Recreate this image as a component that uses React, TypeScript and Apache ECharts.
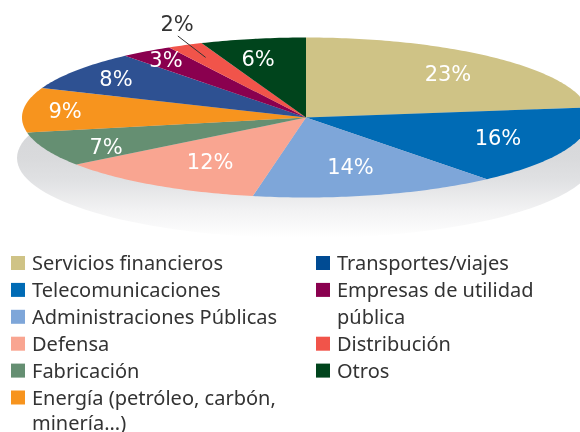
import React, { useEffect, useRef } from "react";
import * as echarts from "echarts";

const categories = ["Servicios financieros", "Telecomunicaciones", "Administraciones Públicas", "Defensa", "Fabricación", "Energía (petróleo, carbón,\nminería...)", "Transportes/viajes", "Empresas de utilidad\npública", "Distribución", "Otros"];
const shares = [23, 16, 14, 12, 7, 9, 8, 3, 2, 6];
const sliceColors = ["#CFC386", "#006BB5", "#7EA6D9", "#F9A591", "#658F72", "#F7941E", "#2E5192", "#8A004F", "#F1544A", "#00441C"];
const legendColors = ["#CFC386", "#006BB5", "#7EA6D9", "#F9A591", "#658F72", "#F7941E", "#004B93", "#8A004F", "#F1544A", "#00441C"];
const total = shares.reduce((a, b) => a + b, 0);

const FONT = '"Noto Sans", sans-serif';
const LABEL_FONT = '"DejaVu Sans", sans-serif';
const CX = 306, CY = 117.5, RX = 284, RY = 80;
// Label placement as a fraction of the radius along each slice's mid-angle
const labelFactors: [number, number][] = [[0.756, 0.75], [0.727, 0.65], [0.63, 0.62], [0.63, 0.637], [0.767, 0.866], [0.852, 1.06], [0.827, 0.851], [0.877, 0.891], [1.066, 1.312], [0.9, 0.763]];

const at = (t: number, kx = 1, ky = kx) => [CX + RX * kx * Math.sin(t), CY - RY * ky * Math.cos(t)];

function renderSlice(params: any, api: any) {
  const i = params.dataIndex;
  const before = shares.slice(0, i).reduce((a, b) => a + b, 0);
  const v = api.value(0);
  const t0 = (before / total) * 2 * Math.PI;
  const t1 = ((before + v) / total) * 2 * Math.PI;
  const pts: number[][] = [[CX, CY]];
  const n = Math.max(8, Math.ceil(v * 4));
  for (let k = 0; k <= n; k++) pts.push(at(t0 + ((t1 - t0) * k) / n));
  const mid = (t0 + t1) / 2;
  const [lx, ly] = at(mid, labelFactors[i][0], labelFactors[i][1]);
  const outside = v === 2;
  const children: any[] = [
    { type: "polygon", shape: { points: pts }, style: { fill: sliceColors[i] } },
    { type: "text", z2: 10, style: { text: `${v}%`, x: lx, y: ly + 1.5, align: "center", verticalAlign: "middle", fill: outside ? "#333333" : "#FFFFFF", font: `21px ${LABEL_FONT}` } },
  ];
  if (outside) {
    const a = at(mid, 1.06, 1.126);
    const b = at(mid, 0.83);
    children.push({ type: "line", z2: 10, shape: { x1: a[0], y1: a[1], x2: b[0], y2: b[1] }, style: { stroke: "#333333", lineWidth: 1 } });
  }
  return { type: "group", children };
}

const legendRows = [0, 1, 2, 3, 4, 5, 0, 1, 3, 4];

export default function App() {
  const ref = useRef<HTMLDivElement>(null);
  useEffect(() => {
    const chart = echarts.init(ref.current!, undefined, { renderer: "svg" });
    const legend: any[] = [];
    categories.forEach((c, i) => {
      const col2 = i > 5;
      const y = 263 + legendRows[i] * 26.9;
      legend.push({ type: "rect", shape: { x: col2 ? 316 : 11, y: y - 7, width: 14, height: 14 }, style: { fill: legendColors[i] } });
      c.split("\n").forEach((line, j) => {
        const ty = y + j * 26.9;
        legend.push({ type: "text", x: col2 ? 337 : 32, y: ty > 420 ? 422 : ty - 0.5, style: { text: line, fill: "#333333", font: `20px ${FONT}`, lineHeight: 15, verticalAlign: "middle" } });
      });
    });
    chart.setOption({
      animation: false,
      graphic: [
        {
          type: "ellipse", z: 0, shape: { cx: 306, cy: 158, rx: 289, ry: 80 },
          style: { fill: new echarts.graphic.LinearGradient(0, 0, 0, 1, [{ offset: 0, color: "#D0D1D4" }, { offset: 0.5, color: "#D9DADC" }, { offset: 0.64, color: "#E0E1E3" }, { offset: 0.825, color: "#F2F2F3" }, { offset: 1, color: "#FFFFFF" }]) },
        },
        ...legend,
      ],
      series: [{ type: "custom", coordinateSystem: "none", z: 2, renderItem: renderSlice, data: shares.map((v, i) => ({ name: categories[i], value: [v] })) }],
    });
    return () => chart.dispose();
  }, []);
  return <div ref={ref} style={{ position: "fixed", left: 0, top: 0, width: 580, height: 432 }} />;
}
